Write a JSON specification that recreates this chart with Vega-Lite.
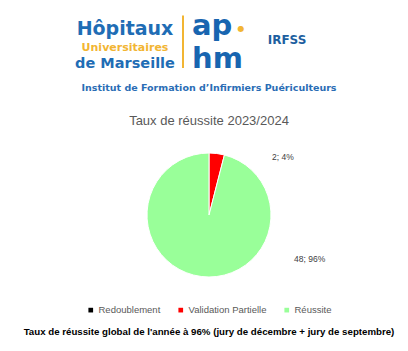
{
  "$schema": "https://vega.github.io/schema/vega-lite/v6.json",
  "padding": {"left": 10, "top": 0, "right": 0, "bottom": 0},
  "background": "white",
  "config": {"view": {"stroke": null}, "font": "Liberation Sans", "concat": {"spacing": 22}, "legend": {"layout": {"bottom": {"anchor": "middle"}}}},
  "title": {
    "text": "Taux de réussite global de l'année à 96% (jury de décembre + jury de septembre)",
    "orient": "bottom", "anchor": "middle", "font": "Liberation Sans", "fontSize": 9.7,
    "fontWeight": "bold", "color": "#000000", "offset": 12
  },
  "vconcat": [
    {
      "width": 398,
      "height": 75,
      "data": {"values": [
        {"piece": "hopitaux", "col": "left", "row": "r1", "row2": "r1", "label": "Hôpitaux"},
        {"piece": "univ", "col": "left", "row": "r2", "row2": "r2", "label": "Universitaires"},
        {"piece": "marseille", "col": "left", "row": "r3", "row2": "r3", "label": "de Marseille"},
        {"piece": "divider", "col": "bar", "row": "r0", "row2": "r3", "label": ""},
        {"piece": "ap", "col": "mono", "row": "r1", "row2": "r1", "label": "ap"},
        {"piece": "dot", "col": "mono", "row": "r1", "row2": "r1", "label": "●"},
        {"piece": "hm", "col": "mono", "row": "r3", "row2": "r3", "label": "hm"},
        {"piece": "irfss", "col": "irfss", "row": "r2", "row2": "r2", "label": "IRFSS"}
      ]},
      "title": {
        "text": "Institut de Formation d’Infirmiers Puériculteurs",
        "orient": "bottom", "anchor": "middle", "font": "DejaVu Sans", "fontSize": 9.5,
        "fontWeight": "bold", "color": "#2a6db5", "offset": 8
      },
      "encoding": {
        "x": {"field": "col", "type": "nominal", "scale": {"type": "point", "domain": ["left", "bar", "mono", "irfss"], "range": [115, 289], "padding": 0}, "axis": null},
        "y": {"field": "row", "type": "ordinal", "scale": {"type": "point", "domain": ["r0", "r1", "r2", "r3"], "range": [15.5, 68], "padding": 0}, "axis": null}
      },
      "layer": [
        {"transform": [{"filter": "datum.piece === 'divider'"}], "mark": {"type": "rule", "color": "#f2b533", "strokeWidth": 2}, "encoding": {"y2": {"field": "row2"}}},
        {"transform": [{"filter": "datum.piece === 'hopitaux'"}], "mark": {"type": "text", "font": "DejaVu Sans", "fontWeight": "bold", "fontSize": 19, "color": "#1f6db5", "baseline": "alphabetic", "align": "center", "dy": 2}, "encoding": {"text": {"field": "label"}}},
        {"transform": [{"filter": "datum.piece === 'univ'"}], "mark": {"type": "text", "font": "DejaVu Sans", "fontWeight": "bold", "fontSize": 11, "color": "#f2b533", "baseline": "alphabetic", "align": "center"}, "encoding": {"text": {"field": "label"}}},
        {"transform": [{"filter": "datum.piece === 'marseille'"}], "mark": {"type": "text", "font": "DejaVu Sans", "fontWeight": "bold", "fontSize": 14.5, "color": "#1f6db5", "baseline": "alphabetic", "align": "center"}, "encoding": {"text": {"field": "label"}}},
        {"transform": [{"filter": "datum.piece === 'ap'"}], "mark": {"type": "text", "font": "DejaVu Sans", "fontWeight": "bold", "fontSize": 29, "color": "#1865b0", "baseline": "alphabetic", "align": "left", "dx": -49, "dy": 2}, "encoding": {"text": {"field": "label"}}},
        {"transform": [{"filter": "datum.piece === 'dot'"}], "mark": {"type": "text", "font": "DejaVu Sans", "fontSize": 8, "color": "#f2b533", "baseline": "middle", "align": "center", "dy": -4}, "encoding": {"text": {"field": "label"}}},
        {"transform": [{"filter": "datum.piece === 'hm'"}], "mark": {"type": "text", "font": "DejaVu Sans", "fontWeight": "bold", "fontSize": 29, "color": "#1865b0", "baseline": "alphabetic", "align": "left", "dx": -49}, "encoding": {"text": {"field": "label"}}},
        {"transform": [{"filter": "datum.piece === 'irfss'"}], "mark": {"type": "text", "font": "DejaVu Sans", "fontWeight": "bold", "fontSize": 12, "color": "#1d5fa0", "baseline": "alphabetic", "align": "center", "dx": -12, "dy": -6.5}, "encoding": {"text": {"field": "label"}}}
      ]
    },
    {
      "width": 398,
      "height": 150,
      "title": {"text": "Taux de réussite 2023/2024", "font": "Liberation Sans", "fontSize": 13, "fontWeight": "normal", "color": "#595959", "anchor": "middle", "offset": 12},
      "data": {"values": [
        {"categorie": "Redoublement", "effectif": 0, "label": ""},
        {"categorie": "Validation Partielle", "effectif": 2, "label": "2; 4%"},
        {"categorie": "Réussite", "effectif": 48, "label": "48; 96%"}
      ]},
      "layer": [
        {
          "mark": {"type": "arc", "outerRadius": 62, "stroke": "white", "strokeWidth": 1},
          "encoding": {
            "theta": {"field": "effectif", "type": "quantitative", "stack": true},
            "order": {"field": "effectif", "type": "quantitative", "sort": "ascending"},
            "color": {
              "field": "categorie", "type": "nominal",
              "scale": {"domain": ["Redoublement", "Validation Partielle", "Réussite"], "range": ["#000000", "#ff0000", "#99ff99"]},
              "legend": {"orient": "bottom", "direction": "horizontal", "title": null, "symbolType": "square", "symbolSize": 22, "symbolStrokeWidth": 0, "labelFont": "Liberation Sans", "labelFontSize": 9.5, "labelColor": "#595959", "columnPadding": 15, "labelOffset": 3, "offset": 15}
            }
          }
        },
        {
          "transform": [{"filter": "datum.categorie === 'Validation Partielle'"}],
          "mark": {"type": "text", "align": "left", "baseline": "middle", "dx": 63, "dy": -58, "fontSize": 8.5, "font": "Liberation Sans", "color": "#404040"},
          "encoding": {"text": {"field": "label"}}
        },
        {
          "transform": [{"filter": "datum.categorie === 'Réussite'"}],
          "mark": {"type": "text", "align": "left", "baseline": "middle", "dx": 85, "dy": 44, "fontSize": 8.5, "font": "Liberation Sans", "color": "#404040"},
          "encoding": {"text": {"field": "label"}}
        }
      ]
    }
  ]
}
